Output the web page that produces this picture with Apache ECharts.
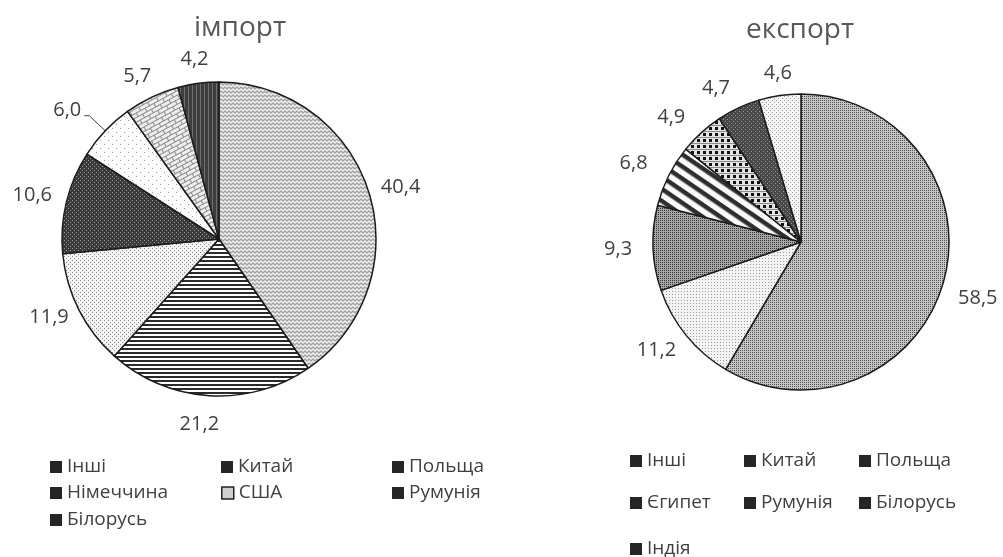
<!DOCTYPE html>
<html><head><meta charset="utf-8">
<script src="https://cdn.jsdelivr.net/npm/echarts@6/dist/echarts.min.js"></script>
<style>html,body{margin:0;padding:0;background:#fff}#c{width:1003px;height:557px}</style>
</head><body><div id="c"></div>
<script>
// ---- data ----
const importNames = ['Інші', 'Китай', 'Польща', 'Німеччина', 'США', 'Румунія', 'Білорусь'];
const importValues = [40.4, 21.2, 11.9, 10.6, 6.0, 5.7, 4.2];
const exportNames = ['Інші', 'Китай', 'Польща', 'Єгипет', 'Румунія', 'Білорусь', 'Індія'];
const exportValues = [58.5, 11.2, 9.3, 6.8, 4.9, 4.7, 4.6];
const chartTitles = ['імпорт', 'експорт'];

// ---- styles ----
const FONT = '"Open Sans", "Noto Sans", sans-serif';
const TXT = '#404040';
const LABEL_SIZE = 20;
function tile(w, h, bg, draw) {
  const c = document.createElement('canvas'); c.width = w; c.height = h;
  const g = c.getContext('2d'); g.fillStyle = bg; g.fillRect(0, 0, w, h);
  if (draw) draw(g); return c;
}
function pattern(c, rot) { const p = { image: c, repeat: 'repeat' }; if (rot) p.rotation = rot; return p; }
function dots(g, pts, color, s) { g.fillStyle = color; pts.forEach(p => g.fillRect(p[0], p[1], s || 1, s || 1)); }

const importFills = [
  pattern(tile(8, 8, '#a2a2a2', g => { g.strokeStyle = '#f2f2f2'; g.lineWidth = 1.3;
    [1.5, 5.5].forEach(y => { g.beginPath(); g.moveTo(-1, y + 1.5); g.lineTo(1, y - 0.5); g.lineTo(3, y + 1.5); g.lineTo(5, y - 0.5); g.lineTo(7, y + 1.5); g.lineTo(9, y - 0.5); g.stroke(); }); })),
  pattern(tile(4, 4, '#ffffff', g => { g.fillStyle = '#2a2a2a'; g.fillRect(0, 0, 4, 2); })),
  pattern(tile(4, 4, '#f3f3f3', g => dots(g, [[0, 0], [2, 2]], '#8c8c8c'))),
  pattern(tile(4, 4, '#3a3a3a', g => dots(g, [[0, 0], [2, 2]], '#9a9a9a'))),
  pattern(tile(8, 8, '#fbfbfb', g => dots(g, [[0, 0], [4, 4]], '#9a9a9a'))),
  pattern(tile(10, 8, '#eeeeee', g => { g.fillStyle = '#8a8a8a'; g.fillRect(0, 0, 10, 1); g.fillRect(0, 4, 10, 1); g.fillRect(0, 0, 1, 4); g.fillRect(5, 4, 1, 4); }), -0.5),
  pattern(tile(4, 4, '#3e3e3e', g => { g.fillStyle = '#6e6e6e'; g.fillRect(0, 0, 1, 4); }))
];
const exportFills = [
  pattern(tile(2, 2, '#c6c6c6', g => dots(g, [[0, 0]], '#505050'))),
  pattern(tile(3, 3, '#f3f3f3', g => dots(g, [[0, 0]], '#9a9a9a'))),
  pattern(tile(2, 2, '#a8a8a8', g => dots(g, [[0, 0]], '#333333'))),
  pattern(tile(10, 10, '#fafafa', g => { g.fillStyle = '#2e2e2e'; g.fillRect(0, 0, 10, 4.5); }), 0.6),
  pattern(tile(6, 6, '#e4e4e4', g => { g.fillStyle = '#111'; g.fillRect(1, 1, 3, 3); g.fillStyle = '#8a8a8a'; g.fillRect(0, 5, 6, 1); })),
  pattern(tile(4, 4, '#484848', g => dots(g, [[1, 1], [3, 3]], '#9a9a9a'))),
  pattern(tile(4, 4, '#f6f6f6', g => dots(g, [[0, 0], [2, 2]], '#9a9a9a')))
];

const fmt = p => p.value.toFixed(1).replace('.', ',');
const labelText = { fontSize: LABEL_SIZE, color: TXT, fontFamily: FONT };

// main pie: patterned slices; one slice may carry an outside label with a leader line
function mainPie(names, values, fills, center, r, leaderIdx) {
  return {
    type: 'pie', center: center, radius: r, startAngle: 90, clockwise: true,
    avoidLabelOverlap: false, silent: true,
    itemStyle: { borderColor: '#1c1c1c', borderWidth: 1.5 },
    label: { show: false },
    labelLine: { show: false },
    emphasis: { disabled: true },
    data: names.map((n, i) => {
      const d = { name: n, value: values[i], itemStyle: { color: fills[i] } };
      if (i === leaderIdx) {
        d.label = Object.assign({ show: true, position: 'outside', formatter: fmt, distanceToLabelLine: 3, offset: [0, -5] }, labelText);
        d.labelLine = { show: true, length: 22, length2: 5, lineStyle: { color: '#444', width: 1 } };
      }
      return d;
    })
  };
}
// transparent ring that only carries the value labels, centred just outside the pie
function labelRing(names, values, center, r0, r1, skipIdx, nudges) {
  return {
    type: 'pie', center: center, radius: [r0, r1], startAngle: 90, clockwise: true,
    silent: true, avoidLabelOverlap: false,
    itemStyle: { color: 'rgba(0,0,0,0)', borderWidth: 0 },
    label: Object.assign({ show: true, position: 'inside', formatter: fmt }, labelText),
    labelLine: { show: false },
    emphasis: { disabled: true },
    data: names.map((n, i) => {
      const d = { name: n, value: values[i] };
      if (i === skipIdx) d.label = { show: false };
      else if (nudges[i]) d.label = { offset: nudges[i] };
      return d;
    })
  };
}

const iconDark = { color: '#262626', borderColor: '#262626', borderWidth: 0 };
const iconLight = { color: '#cfcfcf', borderColor: '#222', borderWidth: 1.5 };
function legendItems(names, cols, rows, light) {
  return names.map((n, i) => ({
    left: cols[i % cols.length], top: rows[Math.floor(i / cols.length)],
    padding: 0, itemWidth: 12, itemHeight: 12, icon: 'rect', selectedMode: false,
    textStyle: { fontSize: 19, color: TXT, fontFamily: FONT, lineHeight: 20 },
    data: [{ name: n, itemStyle: (light.indexOf(n) >= 0 ? iconLight : iconDark) }]
  }));
}

const option = {
  backgroundColor: '#ffffff',
  animation: false,
  title: [
    { text: chartTitles[0], left: 240, top: 14, textAlign: 'center', padding: 0,
      textStyle: { fontSize: 28, fontWeight: 'normal', color: '#585858', fontFamily: FONT } },
    { text: chartTitles[1], left: 800, top: 16, textAlign: 'center', padding: 0,
      textStyle: { fontSize: 28, fontWeight: 'normal', color: '#585858', fontFamily: FONT } }
  ],
  legend: [].concat(
    legendItems(importNames, [50, 221, 392], [457, 483, 510], ['США']),
    legendItems(exportNames, [630, 744, 859], [451, 493, 539], [])
  ),
  series: [
    mainPie(importNames, importValues, importFills, [219, 239], 157, 4),
    mainPie(exportNames, exportValues, exportFills, [801, 242], 148, -1),
    labelRing(importNames, importValues, [219, 239], 157, 209, 4,
      { 0: [4, 4], 1: [-8, 0], 2: [-4, -6], 3: [-6, 0], 5: [-2, 5], 6: [0, 5] }),
    labelRing(exportNames, exportValues, [801, 242], 148, 196, -1,
      { 0: [8, 10], 1: [-9, -2], 2: [-8, 0], 3: [-11, 0], 4: [-12, 5], 5: [-11, 5], 6: [2, 4] })
  ]
};
const chart = echarts.init(document.getElementById('c'), null, { renderer: 'canvas' });
chart.setOption(option);
</script>
</body></html>
